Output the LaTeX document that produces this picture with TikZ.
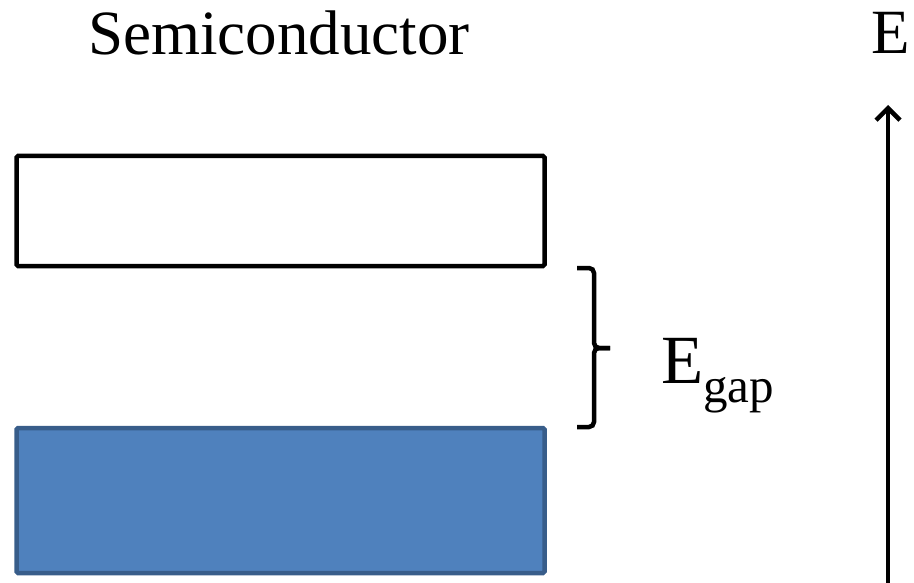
\documentclass[tikz,border=0pt]{standalone}
\usepackage{fontspec}
\setmainfont{Liberation Serif}
\usetikzlibrary{arrows.meta}
\definecolor{bandblue}{HTML}{4F81BD}
\definecolor{bandedge}{HTML}{385D8A}
\tikzset{
  band/.style={draw, line width=4.5pt, rounded corners=1.5pt, inner sep=0pt, minimum width=528pt},
  bigtext/.style={inner sep=0pt, font=\fontsize{63}{70}\selectfont},
}
\begin{document}
\begin{tikzpicture}[x=1pt,y=-1pt]
\useasboundingbox (0,0) rectangle (914,583);
\node[bigtext, anchor=base] (title) at (279,55) {Semiconductor};
\node[bigtext, anchor=base] (elabel) at (891,54) {E};
\node[band, fill=white, minimum height=110pt] (cb) at (280.5,211) {};
\node[band, draw=bandedge, fill=bandblue, minimum height=145pt] (vb) at (280.5,500.5) {};
\coordinate (btop) at (577,268);
\coordinate (bbot) at (577,427);
\coordinate (btip) at (610,348);
\draw[line width=4.5pt, rounded corners=5pt] (btop) -- (594,268) -- (594,348) -- (btip);
\draw[line width=4.5pt, rounded corners=5pt] (btip) -- (594,348) -- (594,427) -- (bbot);
\node[anchor=base west, inner sep=0pt, font=\fontsize{69}{75}\selectfont] (egap) at (661,383) {E\raisebox{-19pt}{\fontsize{49}{52}\selectfont gap}};
\coordinate (abot) at (888,583);
\coordinate (atop) at (888,105);
\draw[line width=4.5pt, -{Straight Barb[length=12pt,width=24pt,line width=4.5pt]}] (abot) -- (atop);
\end{tikzpicture}
\end{document}
